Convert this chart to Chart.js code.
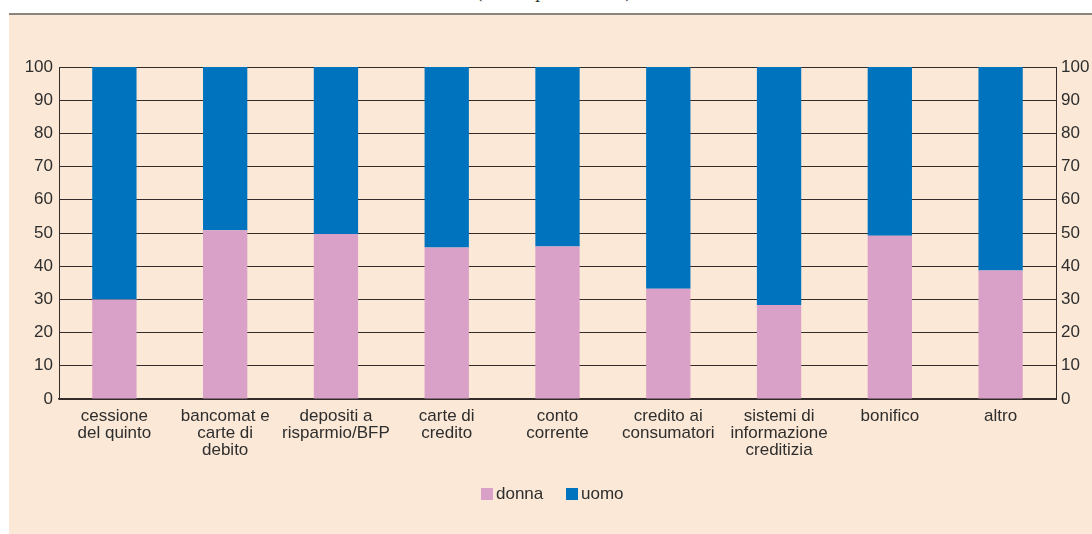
<!DOCTYPE html>
<html>
<head>
<meta charset="utf-8">
<script src="https://cdn.jsdelivr.net/npm/chart.js@4/dist/chart.umd.min.js"></script>
<style>
    body { margin: 0; background: #ffffff; width: 1092px; height: 534px; overflow: hidden; position: relative; font-family: "Liberation Sans", Arial, sans-serif; }
    .title { position: absolute; left: 477px; top: -21px; line-height: 20px; font: italic 20px "Liberation Serif", serif; color: #333; white-space: nowrap; }
    .panel { position: absolute; left: 9px; top: 13px; right: 0; bottom: 0; background: #fbe8d6; border-top: 2px solid #8b837e; }
    #chart { position: absolute; left: 9px; top: 15px; }
    .legend-item { position: absolute; top: 485px; font-size: 17px; line-height: 18px; color: #2e2e2e; display: flex; align-items: center; }
    .legend-item span.box { width: 12px; height: 12px; margin-right: 3px; display: inline-block; }
</style>
</head>
<body>
<div class="title">(valori percentuali)</div>
<div class="panel"></div>
<canvas id="chart" width="1083" height="519"></canvas>
<div class="legend-item" style="left: 481px"><span class="box" style="background:#d9a1c7"></span>donna</div>
<div class="legend-item" style="left: 566px"><span class="box" style="background:#0073be"></span>uomo</div>
<script>
    const CATEGORIES = [
        ['cessione', 'del quinto'],
        ['bancomat e', 'carte di', 'debito'],
        ['depositi a', 'risparmio/BFP'],
        ['carte di', 'credito'],
        ['conto', 'corrente'],
        ['credito ai', 'consumatori'],
        ['sistemi di', 'informazione', 'creditizia'],
        'bonifico',
        'altro',
    ];

    const DONNA = [30.0, 50.8, 49.7, 45.6, 45.9, 33.2, 28.3, 49.2, 38.7];
    const UOMO = [70.0, 49.2, 50.3, 54.4, 54.1, 66.8, 71.7, 50.8, 61.3];

    const Y_MIN = 0;
    const Y_MAX = 100;
    const Y_STEP = 10;

    const TEXT_COLOR = '#2e2e2e';
    const LINE_COLOR = '#332c2a';
    const FONT = { family: '"Liberation Sans", Arial, sans-serif', size: 17, lineHeight: 1.0 };

    const config = {
        type: 'bar',
        data: {
            labels: CATEGORIES,
            datasets: [
                { label: 'donna', data: DONNA, backgroundColor: '#d9a1c7', borderWidth: 0 },
                { label: 'uomo', data: UOMO, backgroundColor: '#0073be', borderWidth: 0 },
            ]
        },
        options: {
            responsive: false,
            animation: false,
            categoryPercentage: 1.0,
            barPercentage: 0.4,
            layout: { padding: { top: 52, left: 0, right: 0, bottom: 0 } },
            plugins: {
                legend: { display: false },
                tooltip: { enabled: false },
            },
            scales: {
                x: {
                    stacked: true,
                    grid: { display: false, drawTicks: false },
                    border: { display: true, color: LINE_COLOR, width: 1.5 },
                    ticks: { color: TEXT_COLOR, font: FONT, padding: 9, maxRotation: 0, autoSkip: false },
                    afterFit: (scale) => { scale.height = 135; }
                },
                y: {
                    stacked: true,
                    min: Y_MIN,
                    max: Y_MAX,
                    grid: { color: LINE_COLOR, lineWidth: 1, drawTicks: false },
                    border: { display: true, color: LINE_COLOR, width: 1 },
                    ticks: { stepSize: Y_STEP, color: TEXT_COLOR, font: FONT, padding: 6 },
                    afterFit: (scale) => { scale.width = 50; }
                },
                y2: {
                    position: 'right',
                    min: Y_MIN,
                    max: Y_MAX,
                    grid: { display: false, drawTicks: false },
                    border: { display: true, color: LINE_COLOR, width: 1 },
                    ticks: { stepSize: Y_STEP, color: TEXT_COLOR, font: FONT, padding: 5 },
                    afterFit: (scale) => { scale.width = 36; }
                }
            }
        }
    };

    new Chart(document.getElementById('chart'), config);
</script>
</body>
</html>
